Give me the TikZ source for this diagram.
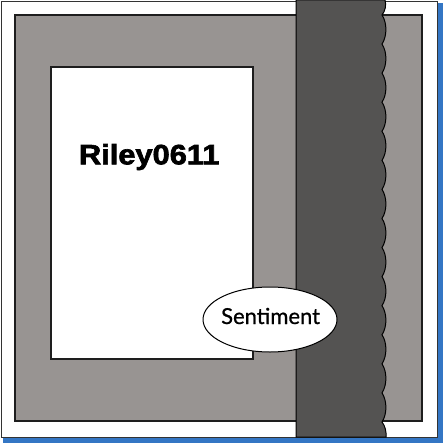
\documentclass[tikz,border=0pt]{standalone}
\usepackage{fontspec}
\usetikzlibrary{shapes.geometric}
\newfontfamily\rileyfont{Liberation Sans Bold}[FakeBold=2.2]
\newfontfamily\sentfont{Lato}[FakeBold=0.8]
\definecolor{shadowblue}{RGB}{52,118,196}
\definecolor{matgray}{RGB}{152,148,146}
\definecolor{stripgray}{RGB}{84,83,82}
\definecolor{edgeblack}{RGB}{30,30,30}
\tikzset{
  matbox/.style={fill=matgray,draw=edgeblack,line width=1.1pt},
  paperbox/.style={fill=white,draw=edgeblack,line width=1.1pt},
  stripbox/.style={fill=stripgray,draw=black,line width=1pt},
  sentbox/.style={ellipse,fill=white,draw=black,line width=1pt,minimum width=134pt,minimum height=65pt,inner sep=0pt}
}
\begin{document}
\begin{tikzpicture}[x=1pt,y=-1pt]
\useasboundingbox (0,0) rectangle (443,443);
% blue shadow
\fill[shadowblue] (3,3) rectangle (443,443);
% outer card
\draw[fill=white,draw=black!80,line width=0.9pt] (1,1) rectangle (437.5,437.5);
% gray mat
\draw[matbox] (15,15) rectangle (422,421);
% white panel
\draw[paperbox] (51,67) rectangle (253,359);
% dark scalloped strip
\draw[stripbox] (296,0) -- (385,0) .. controls (386.5,5) and (385.2,11) .. (382,15)
  \foreach \k in {0,...,13} {
    .. controls (387.2,{15+29.07*\k+8}) and (387.2,{15+29.07*(\k+1)-8}) .. (382,{15+29.07*(\k+1)})
  }
  .. controls (385.2,426) and (386.5,432) .. (386,437) -- (296,437) -- cycle;
% texts
\node[anchor=base,inner sep=0pt] (riley) at (149.2,164.3) {\scalebox{1.1}[1]{\rileyfont\fontsize{28}{30}\selectfont Riley0611}};
\node[sentbox] (sent) at (270,319.5) {};
\node[anchor=base,inner sep=0pt] (senttext) at (270.6,324) {\sentfont\fontsize{22}{24}\selectfont Sentiment};
\end{tikzpicture}
\end{document}
